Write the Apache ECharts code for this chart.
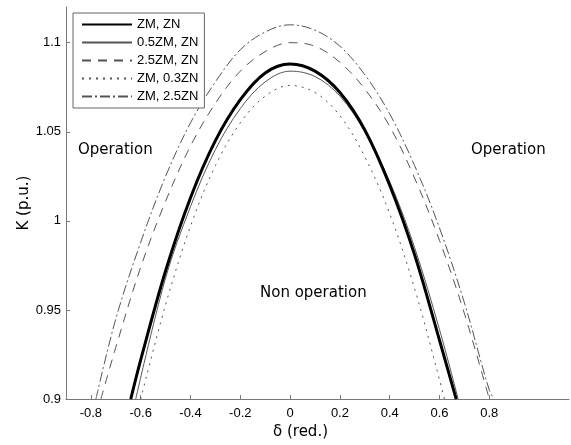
<!DOCTYPE html>
<html>
<head>
<meta charset="utf-8">
<script src="https://cdn.jsdelivr.net/npm/echarts@6/dist/echarts.min.js"></script>
<style>
  html, body { margin: 0; padding: 0; background: #fff; }
</style>
</head>
<body>
<div id="chart" style="width: 571px; height: 445px;"></div>
<script>
// curve data: delta (red.) and K (p.u.)
const seriesNames = ['ZM, ZN', '0.5ZM, ZN', '2.5ZM, ZN', 'ZM, 0.3ZN', 'ZM, 2.5ZN'];

const dZMZN = [-0.64, -0.6, -0.5, -0.4, -0.3, -0.2, -0.1, 0, 0.1, 0.2, 0.3, 0.4, 0.5, 0.6, 0.667];
const kZMZN = [0.900, 0.922, 0.972, 1.013, 1.045, 1.068, 1.083, 1.088, 1.084, 1.072, 1.051, 1.020, 0.981, 0.933, 0.900];

const dHalfZM = [-0.62, -0.5, -0.4, -0.3, -0.2, -0.1, 0, 0.1, 0.2, 0.3, 0.4, 0.5, 0.6, 0.675];
const kHalfZM = [0.900, 0.968, 1.008, 1.040, 1.063, 1.078, 1.084, 1.081, 1.070, 1.050, 1.022, 0.985, 0.939, 0.900];

const dBigZM = [-0.76, -0.7, -0.6, -0.5, -0.4, -0.3, -0.2, -0.1, 0, 0.1, 0.2, 0.3, 0.4, 0.5, 0.6, 0.7, 0.8];
const kBigZM = [0.900, 0.929, 0.974, 1.011, 1.042, 1.066, 1.084, 1.095, 1.100, 1.098, 1.089, 1.074, 1.053, 1.024, 0.989, 0.948, 0.900];

const dSmallZN = [-0.6, -0.5, -0.4, -0.3, -0.2, -0.1, 0, 0.1, 0.2, 0.3, 0.4, 0.5, 0.6, 0.62];
const kSmallZN = [0.900, 0.953, 0.997, 1.031, 1.055, 1.070, 1.076, 1.072, 1.059, 1.036, 1.004, 0.962, 0.911, 0.900];

const dBigZN = [-0.78, -0.7, -0.6, -0.5, -0.4, -0.3, -0.2, -0.1, 0, 0.1, 0.2, 0.3, 0.4, 0.5, 0.6, 0.7, 0.8, 0.82];
const kBigZN = [0.900, 0.945, 0.988, 1.025, 1.055, 1.078, 1.096, 1.106, 1.110, 1.107, 1.098, 1.082, 1.060, 1.031, 0.996, 0.954, 0.905, 0.900];

const xTicks = [-0.8, -0.6, -0.4, -0.2, 0, 0.2, 0.4, 0.6, 0.8];
const yTicks = [0.9, 0.95, 1, 1.05, 1.1];

function pairs(xs, ys) {
  return xs.map((x, i) => [x, ys[i]]);
}

const chart = echarts.init(document.getElementById('chart'));
const font = 'Liberation Sans, Arial, sans-serif';
const wideFont = 'DejaVu Sans, sans-serif';

const option = {
  animation: false,
  textStyle: { fontFamily: font },
  grid: { left: 66, right: 2, top: 7, bottom: 42 },
  legend: {
    orient: 'vertical',
    left: 73,
    top: 13,
    itemWidth: 50,
    itemHeight: 10,
    itemGap: 5,
    padding: [5, 6, 5, 8],
    borderColor: '#666',
    borderWidth: 1,
    backgroundColor: '#fff',
    itemStyle: { opacity: 0 },
    textStyle: { fontSize: 13, color: '#000', fontFamily: font },
    data: seriesNames
  },
  xAxis: {
    type: 'value',
    min: -0.9,
    max: 1.12,
    name: '\u03b4 (red.)',
    nameLocation: 'middle',
    nameGap: 22,
    nameTextStyle: { fontSize: 15, color: '#000', fontFamily: wideFont, padding: [0, 34, 0, 0] },
    axisLine: { onZero: false, lineStyle: { color: '#777' } },
    axisTick: { inside: true, length: 4, customValues: xTicks, lineStyle: { color: '#777' } },
    axisLabel: { customValues: xTicks, fontSize: 13, color: '#000', margin: 8 },
    splitLine: { show: false }
  },
  yAxis: {
    type: 'value',
    min: 0.9,
    max: 1.12,
    name: 'K (p.u.)',
    nameLocation: 'middle',
    nameGap: 34,
    nameMoveOverlap: false,
    nameTextStyle: { fontSize: 15, color: '#000', fontFamily: wideFont },
    axisLine: { show: true, onZero: false, lineStyle: { color: '#777' } },
    axisTick: { show: true, inside: true, length: 4, customValues: yTicks, lineStyle: { color: '#777' } },
    axisLabel: { customValues: yTicks, fontSize: 13, color: '#000', margin: 5 },
    splitLine: { show: false }
  },
  graphic: [
    { type: 'text', left: 78, top: 143, style: { text: 'Operation', font: '15px ' + wideFont, fill: '#000' } },
    { type: 'text', left: 471, top: 143, style: { text: 'Operation', font: '15px ' + wideFont, fill: '#000' } },
    { type: 'text', left: 260, top: 286, style: { text: 'Non operation', font: '15px ' + wideFont, fill: '#000' } }
  ],
  series: [
    {
      name: seriesNames[0], type: 'line', smooth: 0.35, showSymbol: false, symbol: 'none',
      lineStyle: { color: '#000', width: 3 }, itemStyle: { color: '#000' },
      data: pairs(dZMZN, kZMZN), z: 5
    },
    {
      name: seriesNames[1], type: 'line', smooth: 0.35, showSymbol: false, symbol: 'none',
      lineStyle: { color: '#555', width: 1 }, itemStyle: { color: '#555' },
      data: pairs(dHalfZM, kHalfZM)
    },
    {
      name: seriesNames[2], type: 'line', smooth: 0.35, showSymbol: false, symbol: 'none',
      lineStyle: { color: '#555', width: 1, type: [9, 7] }, itemStyle: { color: '#555' },
      data: pairs(dBigZM, kBigZM)
    },
    {
      name: seriesNames[3], type: 'line', smooth: 0.35, showSymbol: false, symbol: 'none',
      lineStyle: { color: '#555', width: 1, type: [2, 5] }, itemStyle: { color: '#555' },
      data: pairs(dSmallZN, kSmallZN)
    },
    {
      name: seriesNames[4], type: 'line', smooth: 0.35, showSymbol: false, symbol: 'none',
      lineStyle: { color: '#555', width: 1, type: [10, 3, 2, 3] }, itemStyle: { color: '#555' },
      data: pairs(dBigZN, kBigZN)
    }
  ]
};

chart.setOption(option);
</script>
</body>
</html>
